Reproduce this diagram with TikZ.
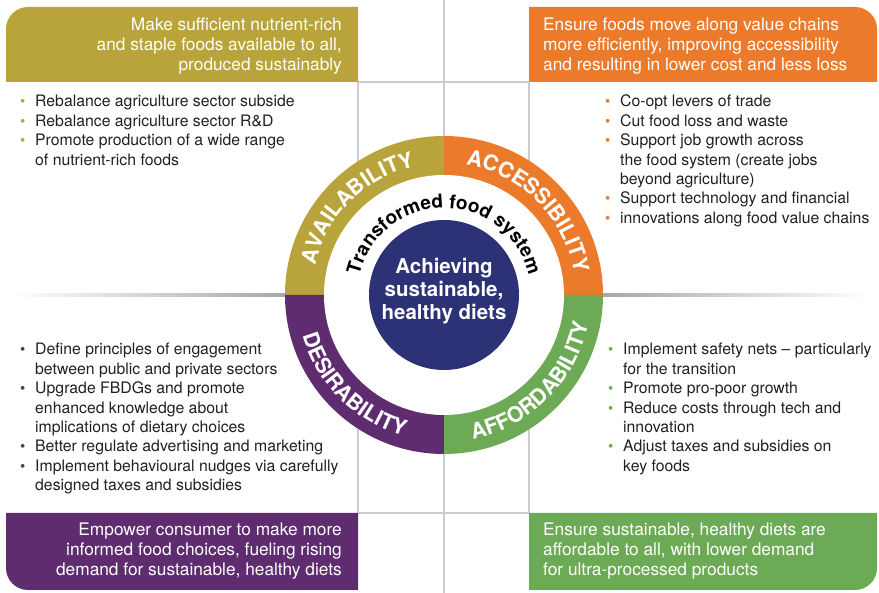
\documentclass[tikz,border=0pt]{standalone}
\usepackage{fontspec}
\setmainfont{TeX Gyre Heros}
\usetikzlibrary{decorations.text}
\definecolor{avail}{HTML}{B9A43B}
\definecolor{access}{HTML}{EB7B2B}
\definecolor{desir}{HTML}{5E2C6F}
\definecolor{afford}{HTML}{6DAA56}
\definecolor{core}{HTML}{2C3275}
\definecolor{ink}{HTML}{231F20}
\newcommand{\dotin}[1]{\makebox[15pt][l]{\textcolor{#1}{\fontsize{15}{15}\selectfont\textbullet}}}
\newcommand{\ringfont}{\bfseries\fontsize{21.5}{21.5}\selectfont}
\newcommand{\hubfont}{\bfseries\fontsize{19}{19}\selectfont}

\begin{document}
\begin{tikzpicture}[
   x=1pt, y=1pt,
   head/.style={inner sep=0pt, text=white, font=\fontsize{17.3}{19.6}\selectfont},
   list/.style={inner sep=0pt, text=ink, font=\fontsize{15.8}{19.4}\selectfont},
   grid/.style={gray!40, line width=1.3pt},
   ringword/.style={decorate, decoration={text along path, text align=center,
      text color=white, text={|\ringfont|#1}}}
]
   \useasboundingbox (0,0) rectangle (879,593);
   \coordinate (C) at (444,298);

   \draw[grid] (358,80) rectangle (529,511);
   \draw[grid] (444,0) -- (444,593);
   \shade[left color=white, right color=gray!70] (10,296.5) rectangle (290,299.5);
   \shade[left color=gray!70, right color=white] (598,296.5) rectangle (870,299.5);

   \fill[avail] (358,511) -- (6,511) -- (6,564) arc (180:90:22pt) -- (358,586) -- cycle;
   \fill[access] (529,511) -- (877,511) -- (877,564) arc (0:90:22pt) -- (529,586) -- cycle;
   \fill[desir] (358,80) -- (6,80) -- (6,25) arc (180:270:22pt) -- (358,3) -- cycle;
   \fill[afford] (529,80) -- (877,80) -- (877,25) arc (0:-90:22pt) -- (529,3) -- cycle;

   \fill[access] (C) -- ++(0:159pt) arc (0:90:159pt) -- cycle;
   \fill[avail] (C) -- ++(90:159pt) arc (90:180:159pt) -- cycle;
   \fill[desir] (C) -- ++(180:159pt) arc (180:270:159pt) -- cycle;
   \fill[afford] (C) -- ++(270:159pt) arc (270:360:159pt) -- cycle;
   \fill[white] (C) circle (120pt);
   \node[circle, fill=core, minimum size=150pt, inner sep=0pt] (hub) at (C) {};
   \node[text=white, align=center, font=\bfseries\fontsize{20.5}{23}\selectfont]
      (goal) at ([yshift=4pt]hub.center) {Achieving\\sustainable,\\healthy diets};

   \path[decorate, decoration={text along path, text align=center, text color=black,
      text={|\hubfont|Transformed food system}}] ([shift={(180:87pt)}]C) arc (180:0:87pt);
   \path[ringword=AVAILABILITY] ([shift={(180:132pt)}]C) arc (180:90:132pt);
   \path[ringword=ACCESSIBILITY] ([shift={(90:132pt)}]C) arc (90:0:132pt);
   \path[ringword=DESIRABILITY] ([shift={(180:147pt)}]C) arc (180:270:147pt);
   \path[ringword=AFFORDABILITY] ([shift={(270:147pt)}]C) arc (270:360:147pt);

   \node[head, anchor=base east] (availhead) at (342,562) {\begin{tabular}[t]{@{}r@{}}
      Make sufficient nutrient-rich\\ and staple foods available to all,\\ produced sustainably\end{tabular}};
   \node[head, anchor=base west] (accesshead) at (543,562) {\begin{tabular}[t]{@{}l@{}}
      Ensure foods move along value chains\\ more efficiently, improving accessibility\\
      and resulting in lower cost and less loss\end{tabular}};
   \node[head, anchor=base east] (desirhead) at (342,57) {\begin{tabular}[t]{@{}r@{}}
      Empower consumer to make more\\ informed food choices, fueling rising\\
      demand for sustainable, healthy diets\end{tabular}};
   \node[head, anchor=base west] (affordhead) at (543,57) {\begin{tabular}[t]{@{}l@{}}
      Ensure sustainable, healthy diets are\\ affordable to all, with lower demand\\
      for ultra-processed products\end{tabular}};

   \node[list, anchor=base west] (availlist) at (20,486) {\begin{tabular}[t]{@{}l@{}l@{}}
      \dotin{avail} & Rebalance agriculture sector subside\\
      \dotin{avail} & Rebalance agriculture sector R\&D\\
      \dotin{avail} & Promote production of a wide range\\
                    & of nutrient-rich foods\end{tabular}};
   \node[list, anchor=base west] (accesslist) at (605,486) {\begin{tabular}[t]{@{}l@{}l@{}}
      \dotin{access} & Co-opt levers of trade\\
      \dotin{access} & Cut food loss and waste\\
      \dotin{access} & Support job growth across\\
                     & the food system (create jobs\\
                     & beyond agriculture)\\
      \dotin{access} & Support technology and financial\\
      \dotin{access} & innovations along food value chains\end{tabular}};
   \node[list, anchor=base west] (desirlist) at (20,238) {\begin{tabular}[t]{@{}l@{}l@{}}
      \dotin{desir} & Define principles of engagement\\
                    & between public and private sectors\\
      \dotin{desir} & Upgrade FBDGs and promote\\
                    & enhanced knowledge about\\
                    & implications of dietary choices\\
      \dotin{desir} & Better regulate advertising and marketing\\
      \dotin{desir} & Implement behavioural nudges via carefully\\
                    & designed taxes and subsidies\end{tabular}};
   \node[list, anchor=base west] (affordlist) at (608,238) {\begin{tabular}[t]{@{}l@{}l@{}}
      \dotin{afford} & Implement safety nets – particularly\\
                     & for the transition\\
      \dotin{afford} & Promote pro-poor growth\\
      \dotin{afford} & Reduce costs through tech and\\
                     & innovation\\
      \dotin{afford} & Adjust taxes and subsidies on\\
                     & key foods\end{tabular}};
\end{tikzpicture}
\end{document}
